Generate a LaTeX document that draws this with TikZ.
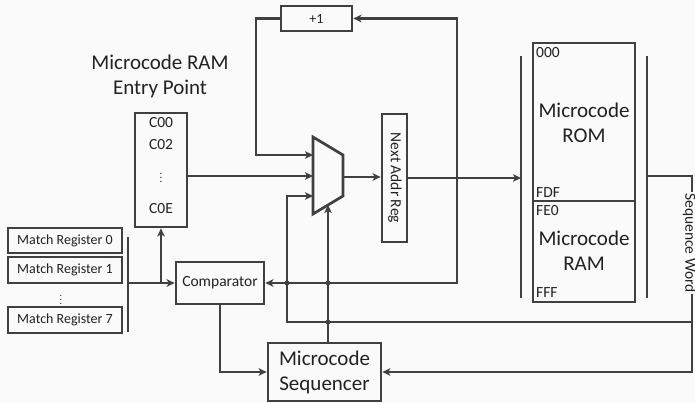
\documentclass[tikz,border=0pt]{standalone}
\usepackage{fontspec}
\setmainfont{Carlito}
\usetikzlibrary{arrows.meta}
\definecolor{ln}{HTML}{404040}
\definecolor{bg}{HTML}{FAFAFA}
\definecolor{tx}{HTML}{222222}
\begin{document}
\begin{tikzpicture}[x=1pt,y=-1pt,
  box/.style={draw=ln, line width=2.7pt, inner sep=0pt, text=tx},
  wire/.style={draw=ln, line width=2.5pt},
  arr/.style={wire, -{Stealth[length=8pt,width=7.5pt,inset=2pt]}},
  big/.style={font=\fontsize{21}{25}\selectfont, align=center, text=tx},
  mid/.style={font=\fontsize{15.5}{18}\selectfont, text=tx, inner sep=0pt},
  sml/.style={font=\fontsize{14}{16}\selectfont, text=tx, inner sep=0pt},
  dot/.style={fill=ln}]
\fill[bg] (0,0) rectangle (695,403);
\useasboundingbox (0,0) rectangle (695,403);

% title
\node[big] (title) at (160,76) {Microcode RAM\\Entry Point};

% +1 box
\node[box, minimum width=71pt, minimum height=25pt, font=\fontsize{14}{14}\selectfont] (plus) at (316.5,18.5) {+1};

% entry point table
\node[box, minimum width=52pt, minimum height=114pt] (entry) at (161,170) {};
\node[mid] (c00) at (161,123) {C00};
\node[mid] (c02) at (161,145) {C02};
\node[font=\fontsize{11}{11}\selectfont, text=tx, inner sep=0pt] (cdots) at (161,175) {$\vdots$};
\node[mid] (c0e) at (161,209) {C0E};

% match registers
\node[box, minimum width=114pt, minimum height=25pt, sml] (mr0) at (65,240.5) {Match Register 0};
\node[box, minimum width=114pt, minimum height=26pt, sml] (mr1) at (65,270) {Match Register 1};
\node[font=\fontsize{10}{10}\selectfont, text=tx, inner sep=0pt] (mrdots) at (61,297) {$\vdots$};
\node[box, minimum width=114pt, minimum height=26pt, sml] (mr7) at (65,320) {Match Register 7};
\draw[wire] (128,237) coordinate (mbt) -- (128,332) coordinate (mbb);
\coordinate (mb) at (128,283);

% comparator
\node[box, minimum width=88pt, minimum height=42pt, mid] (cmp) at (220,283) {Comparator};

% sequencer
\node[box, minimum width=113pt, minimum height=58pt, big] (seq) at (324.5,372) {Microcode\\Sequencer};

% mux
\draw[box] (313,137) coordinate (mtl) -- (343,155) coordinate (mtr) -- (343,196) coordinate (mbr) -- (313,214) coordinate (mbl) -- cycle;
\coordinate (mi1) at (313,155);
\coordinate (mi2) at (313,176);
\coordinate (mi3) at (313,196);
\coordinate (mo) at (343,177);
\coordinate (msel) at (328,205);

% next addr reg
\node[box, minimum width=25pt, minimum height=128pt] (nar) at (394.5,178) {};
\node[mid, rotate=-90] (nartxt) at (395,178) {Next Addr Reg};

% buses
\draw[wire] (521,56) coordinate (lbt) -- (521,298) coordinate (lbb);
\draw[wire] (647,56) coordinate (rbt) -- (647,298) coordinate (rbb);

% ROM / RAM
\node[box, minimum width=102pt, minimum height=158pt] (rom) at (584,122) {};
\node[box, minimum width=102pt, minimum height=101pt] (ram) at (584,251.5) {};
\node[big] (romtxt) at (584,123) {Microcode\\ROM};
\node[big] (ramtxt) at (584,251) {Microcode\\RAM};
\node[mid, anchor=north west] (a000) at (536,47) {000};
\node[mid, anchor=south west] (afdf) at (536,198) {FDF};
\node[mid, anchor=north west] (afe0) at (536,205) {FE0};
\node[mid, anchor=south west] (afff) at (536,298) {FFF};

% connectors
\coordinate (j1) at (457,178);
\draw[arr] (nar.east |- j1) -- (j1 -| lbt);
\draw[arr] (j1) |- (plus.east);
\draw[arr] (j1) |- (cmp.east);
\coordinate (k1) at (256,155);
\draw[arr] (plus.west) -| (k1) -- (mi1);
\draw[arr] (entry.east |- mi2) -- (mi2);
\draw[arr] (mo) -- (mo -| nar.west);
\coordinate (sw1) at (647,176);
\coordinate (sw2) at (692,176);
\draw[arr] (sw1) -- (sw2) |- (seq.east);
\coordinate (k2) at (692,322);
\coordinate (k3) at (287,322);
\draw[arr] (k2) -- (k3) |- (mi3);
\draw[arr] (seq.north -| msel) -- (msel);
\draw[arr] (cmp.south) |- (seq.west);
\draw[arr] (mb) -- (cmp.west);
\draw[arr] (entry.south |- mb) -- (entry.south);

\fill[dot] (287,283) circle (2.4pt);
\fill[dot] (328,283) circle (2.4pt);
\fill[dot] (328,322) circle (2.4pt);

\node[mid, rotate=-90, fill=bg, inner sep=1pt] (swtxt) at (689.5,243) {Sequence Word};
\end{tikzpicture}
\end{document}
